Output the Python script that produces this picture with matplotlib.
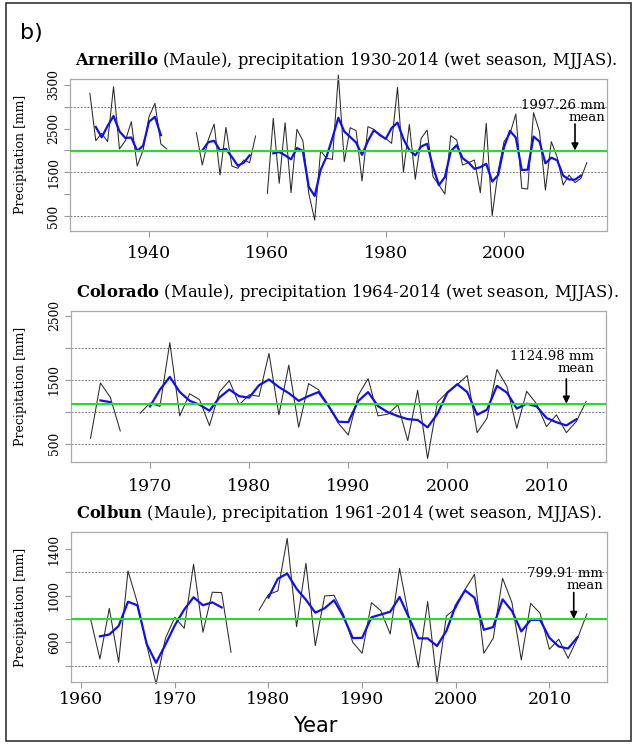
import numpy as np
import matplotlib
matplotlib.use("Agg")
from matplotlib import pyplot as plt
from matplotlib.patches import Rectangle

nan = np.nan

# wet season (MJJAS) precipitation totals, mm
arn_years = np.arange(1930, 2015)
arn_prcp = [3305, 2223, 2390, 2200, 3457, 2032, 2223, 2657, 1643, 2009,
            2771, 3076, 2146, 2032, nan, nan, nan, nan, 2405, 1666,
            2238, 2604, 1437, 2527, 1643, 1590, 1780, 1720, 2329, nan,
            1018, 2733, 1247, 2634, 1034, 2482, 2223, 1018, 409, 1994,
            1819, 1796, 3724, 1742, 2520, 2451, 1300, 2543, 2482, 2337,
            2276, 2162, 3442, 1500, 2596, 1338, 2276, 2466, 1399, 1209,
            1003, 2337, 2238, 1666, 1720, 1780, 1034, 2619, 508, 1514,
            2200, 2375, 2832, 1133, 1117, 2863, 2428, 1095, 2200, 1841,
            1209, 1437, 1262, 1361, 1720]
arn_mean = 1997.26

col_years = np.arange(1964, 2015)
col_prcp = [584, 1449, 1224, 699, nan, 977, 1135, 1082, 2079, 935,
            1281, 1187, 783, 1308, 1486, 1108, 1266, 1240, 1911, 951,
            1727, 757, 1439, 1344, 1100, 820, 636, 1255, 1518, 935,
            962, 1108, 547, 1334, 269, 1150, 1308, 1423, 1565, 673,
            899, 1659, 1397, 741, 1318, 1124, 767, 951, 673, 846,
            1161]
col_mean = 1124.98

cbn_years = np.arange(1961, 2015)
cbn_prcp = [800, 457, 891, 429, 1211, 940, 577, 243, 634, 814,
            720, 1269, 686, 1029, 1026, 514, nan, nan, 877, 1010,
            1040, 1491, 734, 1277, 571, 997, 1003, 840, 600, 506,
            940, 871, 671, 1234, 814, 386, 949, 249, 826, 891,
            1054, 1183, 506, 634, 1149, 940, 449, 934, 849, 540,
            626, 463, 634, 843]
cbn_mean = 799.91

plt.rcParams['font.family'] = ['DejaVu Serif']
plt.rcParams['mathtext.fontset'] = 'dejavuserif'

fig = plt.figure(figsize=(6.34, 7.44), dpi=100)
W, H = 634.0, 744.0


def smooth121(v):
    v = np.asarray(v, dtype=float)
    s = np.full_like(v, nan)
    s[1:-1] = 0.25 * v[:-2] + 0.5 * v[1:-1] + 0.25 * v[2:]
    return s


panels = [
    dict(name="Arnerillo", span="1930-2014", years=arn_years, prcp=arn_prcp,
         mean=arn_mean, box=(70, 79, 606.7, 230.7), ylim=(164, 3633),
         xlim=(1926.64, 2017.36), yticks=[500, 1500, 2500, 3500],
         yminor=[1000, 2000, 3000], xticks=[1940, 1960, 1980, 2000],
         hlines=[500, 1500, 3000], txt=(2017.1, 2900), arrow=(2012, 2604),
         xpad=6),
    dict(name="Colorado", span="1964-2014", years=col_years, prcp=col_prcp,
         mean=col_mean, box=(70.7, 310.7, 606, 461.7), ylim=(219, 2578),
         xlim=(1962, 2016), yticks=[500, 1500, 2500],
         yminor=[1000, 2000], xticks=[1970, 1980, 1990, 2000, 2010],
         hlines=[500, 1000, 1500, 2000], txt=(2014.8, 1761), arrow=(2012, 1511),
         xpad=8),
    dict(name="Colbun", span="1961-2014", years=cbn_years, prcp=cbn_prcp,
         mean=cbn_mean, box=(70.7, 531.7, 606.7, 682.3), ylim=(257, 1548),
         xlim=(1958.88, 2016.12), yticks=[600, 1000, 1400],
         yminor=[400, 800, 1200], xticks=[1960, 1970, 1980, 1990, 2000, 2010],
         hlines=[400, 1200], txt=(2015.7, 1139), arrow=(2012.6, 1026),
         xpad=2),
]

for p in panels:
    x0, y0, x1, y1 = p['box']
    ax = fig.add_axes([x0 / W, 1 - y1 / H, (x1 - x0) / W, (y1 - y0) / H])
    for h in p['hlines']:
        ax.axhline(h, color='#777777', lw=0.7, ls=(0, (2, 1.5)), zorder=1)
    ax.plot(p['years'], p['prcp'], color='#2a2a2a', lw=0.75, clip_on=False, zorder=2)
    ax.plot(p['years'], smooth121(p['prcp']), color='#1010ee', lw=1.6, zorder=3)
    ax.axhline(p['mean'], color='#22e022', lw=1.5, zorder=4)
    ax.set_xlim(*p['xlim'])
    ax.set_ylim(*p['ylim'])
    ax.set_xticks(p['xticks'])
    ax.set_yticks(p['yticks'])
    ax.set_yticks(p['yminor'], minor=True)
    ax.tick_params(axis='x', labelsize=12.5, color='#999999', length=4, width=0.8,
                   pad=p['xpad'])
    ax.tick_params(axis='y', which='both', labelsize=8.8, color='#999999', length=4,
                   width=0.8, pad=3, labelrotation=90)
    for lab in ax.get_yticklabels():
        lab.set_va('center')
    for s in ax.spines.values():
        s.set_color('#aaaaaa')
        s.set_linewidth(0.9)
    ax.set_ylabel("Precipitation [mm]", fontsize=9)
    ax.yaxis.set_label_coords((27 - x0) / (x1 - x0), 0.5)
    ax.text(0.01, 1 + 8 / (y1 - y0),
            r"$\mathbf{%s}$ (Maule), precipitation %s (wet season, MJJAS)." % (p['name'], p['span']),
            transform=ax.transAxes, fontsize=11.8, ha='left', va='bottom')
    ax.text(p['txt'][0], p['txt'][1], "%.2f mm\nmean" % p['mean'], fontsize=9.5,
            ha='right', va='center', multialignment='right', linespacing=0.9, zorder=5)
    ax.annotate("", xy=(p['arrow'][0], p['mean']), xytext=p['arrow'],
                arrowprops=dict(arrowstyle='-|>', color='black', lw=1.2,
                                shrinkA=0, shrinkB=0, mutation_scale=10), zorder=5)

fig.text(315 / W, 1 - 726 / H, "Year", family='DejaVu Sans', fontsize=15,
         ha='center', va='center')
fig.text(20 / W, 1 - 33 / H, "b)", family='DejaVu Sans', fontsize=16,
         ha='left', va='center')
fig.patches.append(Rectangle((6 / W, 3 / H), 625 / W, 738 / H, transform=fig.transFigure,
                             fill=False, lw=1.2, ec='#333333'))

fig.savefig("out.png", dpi=100)
